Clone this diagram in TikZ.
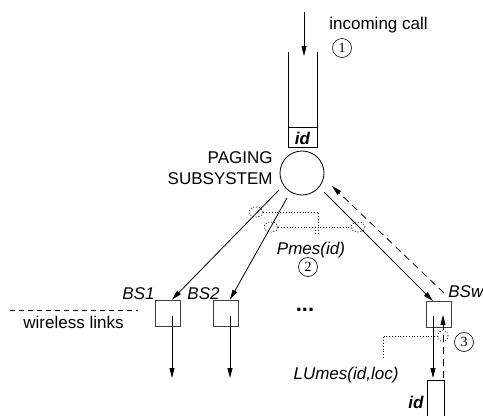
\documentclass[tikz,border=0pt]{standalone}
\usepackage{fontspec}
\setmainfont{Liberation Sans}
\newfontfamily\numfont{Liberation Serif}
\usetikzlibrary{
  arrows.meta,
  calc,
  positioning,
  shapes.geometric
}

\begin{document}
\begin{tikzpicture}[x=1pt,y=-1pt,
  font=\fontsize{17}{21}\selectfont,
  line width=0.8pt,
  arrowline/.style={-{Triangle[length=10pt,width=5pt]}},
  bsbox/.style={draw=black!75,minimum width=25pt,minimum height=26pt,inner sep=0pt},
  stepnum/.style={circle,draw,line width=0.6pt,minimum size=19pt,inner sep=0pt,
    font=\numfont\fontsize{14}{14}\selectfont},
  msg/.style={font=\fontsize{17}{21}\selectfont\itshape,inner sep=0pt},
  idtext/.style={font=\fontsize{17}{21}\selectfont\bfseries\itshape,inner sep=0pt},
  tap/.style={ellipse,draw,dotted,minimum width=14pt,minimum height=10pt,inner sep=0pt},
  ackline/.style={dash pattern=on 7pt off 5pt}
]
  \useasboundingbox (0,0) rectangle (483,416);

  % Incoming call and queue
  \coordinate (callin) at (304,12);
  \coordinate (qtop) at (304,56);
  \draw[arrowline] (callin) -- (qtop);
  \draw (288,52) -- (288,147) -- (317,147) -- (317,52);
  \draw (288,127) -- (317,127);
  \node[idtext] (qid) at (302.5,138) {id};
  \node[anchor=west,inner sep=0pt] (call) at (329,25) {incoming call};
  \node[stepnum] (n1) at (342,48) {1};

  % Paging subsystem
  \node[circle,draw,minimum size=44pt,inner sep=0pt] (paging) at (302,173) {};
  \node[align=right,anchor=east,inner sep=0pt] (pslabel) at (273,168) {PAGING\\SUBSYSTEM};
  \coordinate (bs1from) at (279,190);
  \coordinate (bs2from) at (287,198);
  \coordinate (bswfrom) at (324,192);

  % Base stations
  \node[bsbox] (bs1) at (167.5,313) {};
  \node[bsbox] (bs2) at (226,313) {};
  \node[bsbox] (bsw) at (438.5,314.5) {};
  \node[msg,anchor=base east] (bs1lab) at (155,299) {BS1};
  \node[msg,anchor=base east] (bs2lab) at (220,299) {BS2};
  \node[msg,anchor=base west] (bswlab) at (448,297) {BSw};
  \node[font=\fontsize{22}{22}\selectfont\bfseries,anchor=base,inner sep=0pt] (dots) at (305,311) {...};

  \coordinate (bs1in) at (172,316);
  \coordinate (bs2in) at (230,316);
  \coordinate (bswin) at (433,316);
  \coordinate (bs1out) at (172,378);
  \coordinate (bs2out) at (230,378);
  \coordinate (bswout) at (433,378);

  % Paging messages
  \draw[arrowline] (bs1from) -- (bs1in |- bs1.north);
  \draw[arrowline] (bs2from) -- (bs2in |- bs2.north);
  \draw[arrowline] (bswfrom) -- (bswin |- bsw.north);
  \draw[arrowline] (bs1in) -- (bs1out);
  \draw[arrowline] (bs2in) -- (bs2out);
  \draw[arrowline] (bswin) -- (bswout);

  \node[tap] (e1) at (256,212) {};
  \node[tap] (e2) at (271,227) {};
  \node[tap] (e3) at (358,227) {};
  \coordinate (pmjoin) at (318,235);
  \draw[dotted] (e1.east) -| (pmjoin);
  \draw[dotted] (e2.east) -- (e3.west);
  \draw[dotted] ($(pmjoin)+(-3,-8)$) -- ++(0,8);
  \node[msg] (pmes) at (311,250) {Pmes(id)};
  \node[stepnum] (n2) at (308,267) {2};

  % Wireless links
  \coordinate (wl1) at (10,310);
  \coordinate (wl2) at (138,310);
  \draw[dash pattern=on 5pt off 4pt] (wl1) -- (wl2);
  \node[inner sep=0pt] (wllab) at (73.5,322) {wireless links};

  % Location update from the mobile
  \coordinate (ackout) at (444,293);
  \coordinate (ackin) at (332,186);
  \draw[arrowline,ackline] (ackout) -- (ackin);
  \coordinate (lufrom) at (443,378);
  \coordinate (luto) at (443,315);
  \draw[arrowline,ackline] (lufrom) -- (luto);
  \node[tap,minimum width=10pt,minimum height=12pt] (e4) at (443,336) {};
  \coordinate (lujoin) at (383,359);
  \draw[dotted] (e4.west) -| (lujoin);
  \node[stepnum] (n3) at (464,342) {3};
  \node[msg] (lumes) at (346,375) {LUmes(id,loc)};

  % Mobile
  \draw (427,416) -- (427,380) -- (444,380) -- (444,416);
  \node[idtext,anchor=base east] (mid) at (424,408) {id};
\end{tikzpicture}
\end{document}
